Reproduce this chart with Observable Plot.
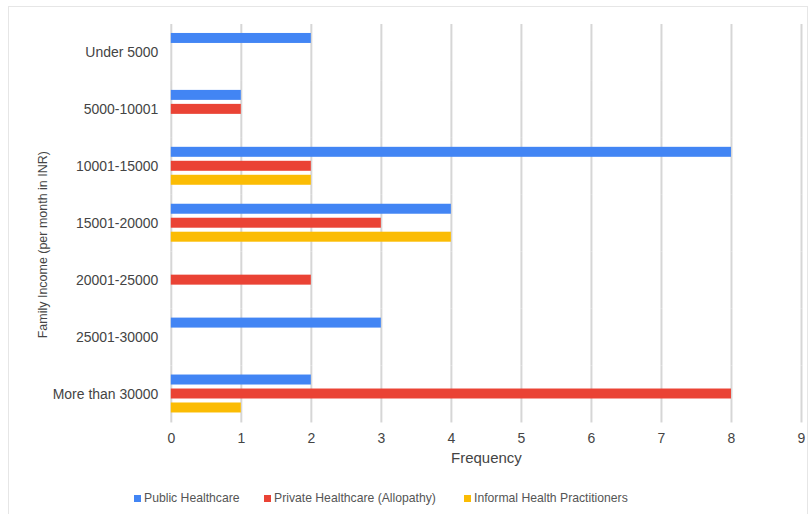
<!DOCTYPE html>
<html>
<head>
<meta charset="utf-8">
<script src="https://cdn.jsdelivr.net/npm/d3@7"></script>
<script src="https://cdn.jsdelivr.net/npm/@observablehq/plot@0.6"></script>
<style>
  html, body { margin: 0; padding: 0; background: #fff; }
  body { width: 809px; height: 514px; position: relative; overflow: hidden; font-family: "Liberation Sans", Arial, sans-serif; }
  #frame { position: absolute; left: 8px; top: 6px; width: 800px; height: 540px; border: 1px solid #e6e6e6; box-sizing: border-box; }
  #chart { position: absolute; left: 1px; top: 0px; }
  .lg { position: absolute; top: 490px; height: 16px; display: flex; align-items: center; font-size: 12.2px; color: #555; white-space: nowrap; }
  .lg i { display: inline-block; width: 7px; height: 7px; margin-right: 3px; }
</style>
</head>
<body>
<div id="frame"><div id="chart"></div></div>
<div id="legend"></div>
<script>
const categories = ["Under 5000", "5000-10001", "10001-15000", "15001-20000", "20001-25000", "25001-30000", "More than 30000"];
const series = ["Public Healthcare", "Private Healthcare (Allopathy)", "Informal Health Practitioners"];
const publicVals = [2, 1, 8, 4, 0, 3, 2];
const privateVals = [0, 1, 2, 3, 2, 0, 8];
const informalVals = [0, 0, 2, 4, 0, 0, 1];
const colors = ["#4285F4", "#EA4335", "#FBBC04"];
const xTicks = [0, 1, 2, 3, 4, 5, 6, 7, 8, 9];
const xTitle = "Frequency";
const yTitle = "Family Income (per month in INR)";

const valueLists = [publicVals, privateVals, informalVals];
const data = [];
categories.forEach((c, i) => {
  series.forEach((s, j) => {
    const v = valueLists[j][i];
    if (v > 0) data.push({category: c, series: s, value: v});
  });
});

const textColor = "#444";
const chart = Plot.plot({
  width: 798,
  height: 475,
  marginLeft: 161,
  marginRight: 6,
  marginTop: 14,
  marginBottom: 56,
  style: {fontFamily: "'Liberation Sans', Arial, sans-serif", color: textColor, background: "transparent", overflow: "visible"},
  x: {domain: [0, 9], ticks: xTicks, label: null},
  fy: {domain: categories, padding: 0, label: null, axis: null},
  y: {domain: series, paddingInner: 0.276, paddingOuter: 0.634, axis: null, label: null},
  color: {domain: series, range: colors},
  marks: [
    Plot.gridX(xTicks, {stroke: "#d6d6d6", strokeOpacity: 1, strokeWidth: 2}),
    Plot.barX(data, {fy: "category", y: "series", x: "value", fill: "series", inset: 0}),
    Plot.axisFy({anchor: "left", tickSize: 0, tickPadding: 13, fontSize: 14, label: null, fill: textColor}),
    Plot.axisX({ticks: xTicks, tickSize: 0, tickPadding: 10, fontSize: 14, label: null, fill: textColor}),
    Plot.text([xTitle], {fy: () => categories[categories.length - 1], frameAnchor: "bottom", dy: 35, lineAnchor: "middle", fontSize: 15, fill: textColor, text: d => d}),
    Plot.text([yTitle], {fy: () => categories[3], frameAnchor: "left", dx: -128, dy: 21, rotate: -90, textAnchor: "middle", lineAnchor: "middle", fontSize: 12.5, fill: textColor, text: d => d})
  ]
});
document.getElementById("chart").appendChild(chart);

const legendLefts = [134, 264, 464];
const legend = document.getElementById("legend");
series.forEach((s, i) => {
  const item = document.createElement("div");
  item.className = "lg";
  item.style.left = legendLefts[i] + "px";
  const sw = document.createElement("i");
  sw.style.background = colors[i];
  item.appendChild(sw);
  item.appendChild(document.createTextNode(s));
  legend.appendChild(item);
});
</script>
</body>
</html>
